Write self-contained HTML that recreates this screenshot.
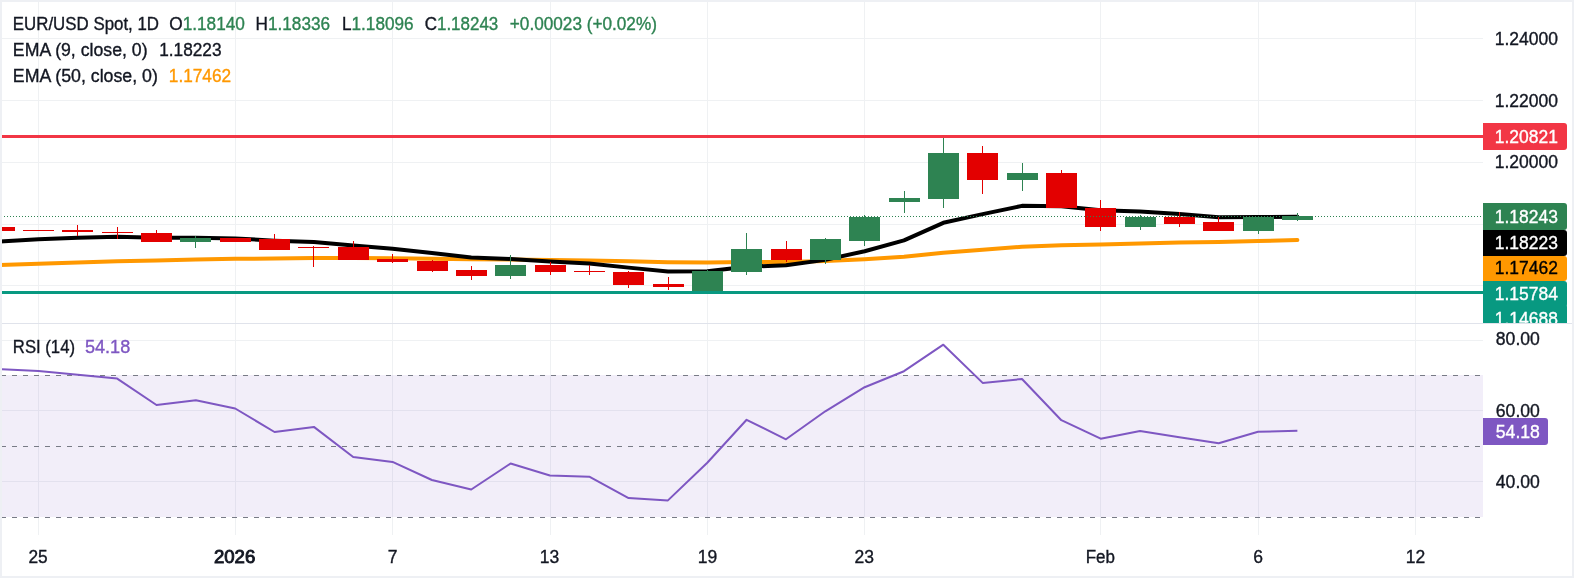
<!DOCTYPE html>
<html><head><meta charset="utf-8"><style>
html,body{margin:0;padding:0;background:#fff;}
svg{display:block;}
text{font-family:"Liberation Sans",sans-serif;font-size:17.5px;stroke-width:0.35px;}
</style></head><body>
<svg width="1574" height="578" viewBox="0 0 1574 578">
<rect width="1574" height="578" fill="#ffffff"/>
<rect x="0" y="38" width="1483" height="1" fill="#eff1f3"/>
<rect x="0" y="100" width="1483" height="1" fill="#eff1f3"/>
<rect x="0" y="162" width="1483" height="1" fill="#eff1f3"/>
<rect x="0" y="224" width="1483" height="1" fill="#eff1f3"/>
<rect x="0" y="285" width="1483" height="1" fill="#eff1f3"/>
<rect x="0" y="340" width="1483" height="1" fill="#eff1f3"/>
<rect x="0" y="410" width="1483" height="1" fill="#eff1f3"/>
<rect x="0" y="481" width="1483" height="1" fill="#eff1f3"/>
<rect x="38" y="0" width="1" height="535" fill="#eff1f3"/>
<rect x="235" y="0" width="1" height="535" fill="#eff1f3"/>
<rect x="392" y="0" width="1" height="535" fill="#eff1f3"/>
<rect x="550" y="0" width="1" height="535" fill="#eff1f3"/>
<rect x="707" y="0" width="1" height="535" fill="#eff1f3"/>
<rect x="864" y="0" width="1" height="535" fill="#eff1f3"/>
<rect x="1100" y="0" width="1" height="535" fill="#eff1f3"/>
<rect x="1258" y="0" width="1" height="535" fill="#eff1f3"/>
<rect x="1415" y="0" width="1" height="535" fill="#eff1f3"/>
<rect x="0" y="375" width="1483" height="142" fill="rgba(126,87,194,0.1)"/>
<rect x="0" y="323" width="1574" height="1" fill="#e0e3eb"/>
<line x1="1" y1="375.5" x2="1483" y2="375.5" stroke="#787b86" stroke-width="1" stroke-dasharray="5 6"/>
<line x1="1" y1="446.5" x2="1483" y2="446.5" stroke="#787b86" stroke-width="1" stroke-dasharray="5 6"/>
<line x1="1" y1="517.5" x2="1483" y2="517.5" stroke="#787b86" stroke-width="1" stroke-dasharray="5 6"/>
<defs><clipPath id="mp"><rect x="0" y="0" width="1483" height="323"/></clipPath><clipPath id="rp"><rect x="0" y="324" width="1483" height="211"/></clipPath></defs>
<g clip-path="url(#mp)">
<path d="M-0.84 265.10 L38.50 263.73 L77.84 262.46 L117.18 261.27 L156.52 260.48 L195.86 259.57 L235.20 258.85 L274.54 258.47 L313.88 258.04 L353.22 258.08 L392.56 258.20 L431.90 258.67 L471.24 259.31 L510.58 259.50 L549.92 259.96 L589.26 260.40 L628.60 261.33 L667.94 262.31 L707.28 262.61 L746.62 262.06 L785.96 261.93 L825.30 261.00 L864.64 259.25 L903.98 256.81 L943.32 252.70 L982.66 249.82 L1022.00 246.78 L1061.34 245.23 L1100.68 244.49 L1140.02 243.39 L1179.36 242.60 L1218.70 242.10 L1258.04 241.08 L1297.38 240.07" fill="none" stroke="#ff9800" stroke-width="4" stroke-linejoin="round" stroke-linecap="round"/>
<path d="M-0.84 241.60 L38.50 239.36 L77.84 237.81 L117.18 236.77 L156.52 237.69 L195.86 237.67 L235.20 238.44 L274.54 240.65 L313.88 242.04 L353.22 245.51 L392.56 248.69 L431.90 253.05 L471.24 257.50 L510.58 258.92 L549.92 261.42 L589.26 263.45 L628.60 267.62 L667.94 271.42 L707.28 271.21 L746.62 266.73 L785.96 265.21 L825.30 259.88 L864.64 251.23 L903.98 240.42 L943.32 222.82 L982.66 214.17 L1022.00 205.86 L1061.34 206.21 L1100.68 210.29 L1140.02 211.59 L1179.36 213.97 L1218.70 217.22 L1258.04 217.01 L1297.38 216.75" fill="none" stroke="#000000" stroke-width="4" stroke-linejoin="round" stroke-linecap="round"/>
<rect x="-16" y="227" width="31" height="4" fill="#e30000"/>
<rect x="23" y="230" width="31" height="1" fill="#e30000"/>
<rect x="77" y="225" width="1" height="11" fill="#e30000"/>
<rect x="62" y="230" width="31" height="2" fill="#e30000"/>
<rect x="117" y="227" width="1" height="12" fill="#e30000"/>
<rect x="102" y="232" width="31" height="1" fill="#e30000"/>
<rect x="156" y="230" width="1" height="12" fill="#e30000"/>
<rect x="141" y="233" width="31" height="9" fill="#e30000"/>
<rect x="195" y="236" width="1" height="12" fill="#2e8352"/>
<rect x="180" y="238" width="31" height="4" fill="#2e8352"/>
<rect x="220" y="238" width="31" height="4" fill="#e30000"/>
<rect x="274" y="234" width="1" height="16" fill="#e30000"/>
<rect x="259" y="239" width="31" height="11" fill="#e30000"/>
<rect x="313" y="246" width="1" height="21" fill="#e30000"/>
<rect x="298" y="247" width="31" height="1" fill="#e30000"/>
<rect x="353" y="241" width="1" height="19" fill="#e30000"/>
<rect x="338" y="247" width="31" height="13" fill="#e30000"/>
<rect x="392" y="254" width="1" height="9" fill="#e30000"/>
<rect x="377" y="259" width="31" height="3" fill="#e30000"/>
<rect x="432" y="260" width="1" height="12" fill="#e30000"/>
<rect x="417" y="261" width="31" height="10" fill="#e30000"/>
<rect x="471" y="266" width="1" height="14" fill="#e30000"/>
<rect x="456" y="270" width="31" height="6" fill="#e30000"/>
<rect x="510" y="255" width="1" height="24" fill="#2e8352"/>
<rect x="495" y="265" width="31" height="11" fill="#2e8352"/>
<rect x="550" y="262" width="1" height="13" fill="#e30000"/>
<rect x="535" y="265" width="31" height="7" fill="#e30000"/>
<rect x="589" y="265" width="1" height="10" fill="#e30000"/>
<rect x="574" y="271" width="31" height="1" fill="#e30000"/>
<rect x="628" y="271" width="1" height="17" fill="#e30000"/>
<rect x="613" y="272" width="31" height="13" fill="#e30000"/>
<rect x="668" y="277" width="1" height="13" fill="#e30000"/>
<rect x="653" y="284" width="31" height="3" fill="#e30000"/>
<rect x="707" y="270" width="1" height="21" fill="#2e8352"/>
<rect x="692" y="271" width="31" height="20" fill="#2e8352"/>
<rect x="746" y="233" width="1" height="42" fill="#2e8352"/>
<rect x="731" y="249" width="31" height="23" fill="#2e8352"/>
<rect x="786" y="241" width="1" height="21" fill="#e30000"/>
<rect x="771" y="249" width="31" height="11" fill="#e30000"/>
<rect x="825" y="238" width="1" height="26" fill="#2e8352"/>
<rect x="810" y="239" width="31" height="21" fill="#2e8352"/>
<rect x="864" y="215" width="1" height="31" fill="#2e8352"/>
<rect x="849" y="217" width="31" height="24" fill="#2e8352"/>
<rect x="904" y="191" width="1" height="22" fill="#2e8352"/>
<rect x="889" y="198" width="31" height="4" fill="#2e8352"/>
<rect x="943" y="136" width="1" height="72" fill="#2e8352"/>
<rect x="928" y="153" width="31" height="46" fill="#2e8352"/>
<rect x="982" y="146" width="1" height="48" fill="#e30000"/>
<rect x="967" y="153" width="31" height="27" fill="#e30000"/>
<rect x="1022" y="163" width="1" height="28" fill="#2e8352"/>
<rect x="1007" y="173" width="31" height="7" fill="#2e8352"/>
<rect x="1061" y="170" width="1" height="38" fill="#e30000"/>
<rect x="1046" y="173" width="31" height="35" fill="#e30000"/>
<rect x="1100" y="200" width="1" height="31" fill="#e30000"/>
<rect x="1085" y="208" width="31" height="19" fill="#e30000"/>
<rect x="1140" y="215" width="1" height="15" fill="#2e8352"/>
<rect x="1125" y="217" width="31" height="10" fill="#2e8352"/>
<rect x="1179" y="212" width="1" height="15" fill="#e30000"/>
<rect x="1164" y="217" width="31" height="7" fill="#e30000"/>
<rect x="1218" y="217" width="1" height="14" fill="#e30000"/>
<rect x="1203" y="222" width="31" height="9" fill="#e30000"/>
<rect x="1258" y="217" width="1" height="17" fill="#2e8352"/>
<rect x="1243" y="217" width="31" height="14" fill="#2e8352"/>
<rect x="1297" y="213" width="1" height="8" fill="#2e8352"/>
<rect x="1282" y="216" width="31" height="4" fill="#2e8352"/>
<rect x="0" y="135" width="1483" height="3" fill="#f23645"/>
<rect x="0" y="291" width="1483" height="3" fill="#089981"/>
<line x1="1" y1="216.5" x2="1483" y2="216.5" stroke="#2e8352" stroke-width="1" stroke-dasharray="1 2"/>
</g>
<g clip-path="url(#rp)"><path d="M2.00 369.20 L38.50 370.90 L77.84 374.70 L117.18 378.60 L156.52 405.00 L195.86 400.30 L235.20 408.50 L274.54 432.00 L313.88 426.90 L353.22 457.00 L392.56 461.90 L431.90 480.00 L471.24 489.50 L510.58 463.50 L549.92 475.50 L589.26 476.70 L628.60 498.10 L667.94 500.40 L707.28 462.80 L746.62 419.80 L785.96 439.30 L825.30 411.30 L864.64 387.20 L903.98 371.20 L943.32 344.70 L982.66 382.90 L1022.00 379.00 L1061.34 420.20 L1100.68 438.70 L1140.02 431.10 L1179.36 437.30 L1218.70 443.20 L1258.04 431.80 L1297.38 430.80" fill="none" stroke="#7e57c2" stroke-width="2" stroke-linejoin="round"/></g>
<g clip-path="url(#pa)">
</g>
<defs><clipPath id="pa"><rect x="1483" y="0" width="91" height="323"/></clipPath></defs>
<g clip-path="url(#pa)">
<path d="M1483 123 H1564 Q1567 123 1567 126 V147 Q1567 150 1564 150 H1483 Z" fill="#f23645"/>
<path d="M1483 203 H1564 Q1567 203 1567 206 V227 Q1567 230 1564 230 H1483 Z" fill="#2e8352"/>
<path d="M1483 230 H1564 Q1567 230 1567 233 V253 Q1567 256 1564 256 H1483 Z" fill="#000000"/>
<path d="M1483 256 H1564 Q1567 256 1567 259 V278 Q1567 281 1564 281 H1483 Z" fill="#ff9800"/>
<path d="M1483 281 H1564 Q1567 281 1567 284 V304 Q1567 307 1564 307 H1483 Z" fill="#089981"/>
<path d="M1483 304 H1564 Q1567 304 1567 307 V327 Q1567 330 1564 330 H1483 Z" fill="#089981"/>
</g>
<path d="M1483 418 H1545 Q1548 418 1548 421 V442 Q1548 445 1545 445 H1483 Z" fill="#7e57c2"/>
<rect x="0" y="0" width="1574" height="2" fill="#eef0f4"/>
<rect x="0" y="0" width="2" height="578" fill="#eef0f4"/>
<rect x="1572" y="0" width="2" height="578" fill="#eef0f4"/>
<rect x="0" y="576" width="1574" height="2" fill="#eef0f4"/>
<g style="filter:opacity(1)"><text x="12.84" y="30" font-weight="normal" textLength="146.16" lengthAdjust="spacingAndGlyphs"><tspan fill="#131722" stroke="#131722">EUR/USD Spot, 1D</tspan></text>
<text x="169.21" y="30" font-weight="normal" textLength="75.76" lengthAdjust="spacingAndGlyphs"><tspan fill="#131722" stroke="#131722">O</tspan><tspan fill="#2e8352" stroke="#2e8352">1.18140</tspan></text>
<text x="255.62" y="30" font-weight="normal" textLength="74.39" lengthAdjust="spacingAndGlyphs"><tspan fill="#131722" stroke="#131722">H</tspan><tspan fill="#2e8352" stroke="#2e8352">1.18336</tspan></text>
<text x="342.02" y="30" font-weight="normal" textLength="71.58" lengthAdjust="spacingAndGlyphs"><tspan fill="#131722" stroke="#131722">L</tspan><tspan fill="#2e8352" stroke="#2e8352">1.18096</tspan></text>
<text x="424.73" y="30" font-weight="normal" textLength="73.58" lengthAdjust="spacingAndGlyphs"><tspan fill="#131722" stroke="#131722">C</tspan><tspan fill="#2e8352" stroke="#2e8352">1.18243</tspan></text>
<text x="509.82" y="30" font-weight="normal" textLength="147.11" lengthAdjust="spacingAndGlyphs"><tspan fill="#2e8352" stroke="#2e8352">+0.00023 (+0.02%)</tspan></text>
<text x="12.89" y="56" font-weight="normal" textLength="134.66" lengthAdjust="spacingAndGlyphs"><tspan fill="#131722" stroke="#131722">EMA (9, close, 0)</tspan></text>
<text x="159.21" y="56" font-weight="normal" textLength="62.35" lengthAdjust="spacingAndGlyphs"><tspan fill="#131722" stroke="#131722">1.18223</tspan></text>
<text x="12.89" y="81.5" font-weight="normal" textLength="145.01" lengthAdjust="spacingAndGlyphs"><tspan fill="#131722" stroke="#131722">EMA (50, close, 0)</tspan></text>
<text x="168.81" y="81.5" font-weight="normal" textLength="62.35" lengthAdjust="spacingAndGlyphs"><tspan fill="#ff9800" stroke="#ff9800">1.17462</tspan></text>
<text x="12.85" y="352.5" font-weight="normal" textLength="62.16" lengthAdjust="spacingAndGlyphs"><tspan fill="#131722" stroke="#131722">RSI (14)</tspan></text>
<text x="84.97" y="352.5" font-weight="normal" textLength="45.26" lengthAdjust="spacingAndGlyphs"><tspan fill="#7e57c2" stroke="#7e57c2">54.18</tspan></text>
<text x="1494.70" y="44.7" font-weight="normal" textLength="63.27" lengthAdjust="spacingAndGlyphs"><tspan fill="#131722" stroke="#131722">1.24000</tspan></text>
<text x="1494.70" y="106.7" fill="#131722" stroke="#131722" textLength="63.27" lengthAdjust="spacingAndGlyphs">1.22000</text>
<text x="1494.70" y="167.7" fill="#131722" stroke="#131722" textLength="63.27" lengthAdjust="spacingAndGlyphs">1.20000</text>
<text x="1495.80" y="345.4" fill="#131722" stroke="#131722" textLength="44.10" lengthAdjust="spacingAndGlyphs">80.00</text>
<text x="1495.80" y="416.6" fill="#131722" stroke="#131722" textLength="44.10" lengthAdjust="spacingAndGlyphs">60.00</text>
<text x="1495.80" y="487.6" fill="#131722" stroke="#131722" textLength="44.10" lengthAdjust="spacingAndGlyphs">40.00</text>
<text x="1494.80" y="142.5" fill="#fff" stroke="#fff" textLength="63.06" lengthAdjust="spacingAndGlyphs" clip-path="url(#pa)">1.20821</text>
<text x="1494.80" y="222.8" fill="#fff" stroke="#fff" textLength="63.06" lengthAdjust="spacingAndGlyphs" clip-path="url(#pa)">1.18243</text>
<text x="1494.80" y="248.6" fill="#fff" stroke="#fff" textLength="63.06" lengthAdjust="spacingAndGlyphs" clip-path="url(#pa)">1.18223</text>
<text x="1494.80" y="273.8" fill="#000" stroke="#000" textLength="63.06" lengthAdjust="spacingAndGlyphs" clip-path="url(#pa)">1.17462</text>
<text x="1494.80" y="299.6" fill="#fff" stroke="#fff" textLength="63.06" lengthAdjust="spacingAndGlyphs" clip-path="url(#pa)">1.15784</text>
<text x="1494.80" y="325.4" fill="#fff" stroke="#fff" textLength="63.06" lengthAdjust="spacingAndGlyphs" clip-path="url(#pa)">1.14688</text>
<text x="1495.80" y="437.9" fill="#fff" stroke="#fff" textLength="44.10" lengthAdjust="spacingAndGlyphs">54.18</text>
<text x="28.41" y="563" font-weight="normal" textLength="19.25" lengthAdjust="spacingAndGlyphs"><tspan fill="#131722" stroke="#131722">25</tspan></text>
<text x="213.94" y="563" font-weight="normal" textLength="41.29" lengthAdjust="spacingAndGlyphs" style="stroke-width:0.9px"><tspan fill="#131722" stroke="#131722">2026</tspan></text>
<text x="392.6" y="563" text-anchor="middle" font-weight="normal" fill="#131722" stroke="#131722">7</text>
<text x="549.5" y="563" text-anchor="middle" font-weight="normal" fill="#131722" stroke="#131722">13</text>
<text x="707.4" y="563" text-anchor="middle" font-weight="normal" fill="#131722" stroke="#131722">19</text>
<text x="864.3" y="563" text-anchor="middle" font-weight="normal" fill="#131722" stroke="#131722">23</text>
<text x="1258.2" y="563" text-anchor="middle" font-weight="normal" fill="#131722" stroke="#131722">6</text>
<text x="1415.5" y="563" text-anchor="middle" font-weight="normal" fill="#131722" stroke="#131722">12</text>
<text x="1085.63" y="563" font-weight="normal" textLength="29.22" lengthAdjust="spacingAndGlyphs"><tspan fill="#131722" stroke="#131722">Feb</tspan></text></g>
</svg>
</body></html>
